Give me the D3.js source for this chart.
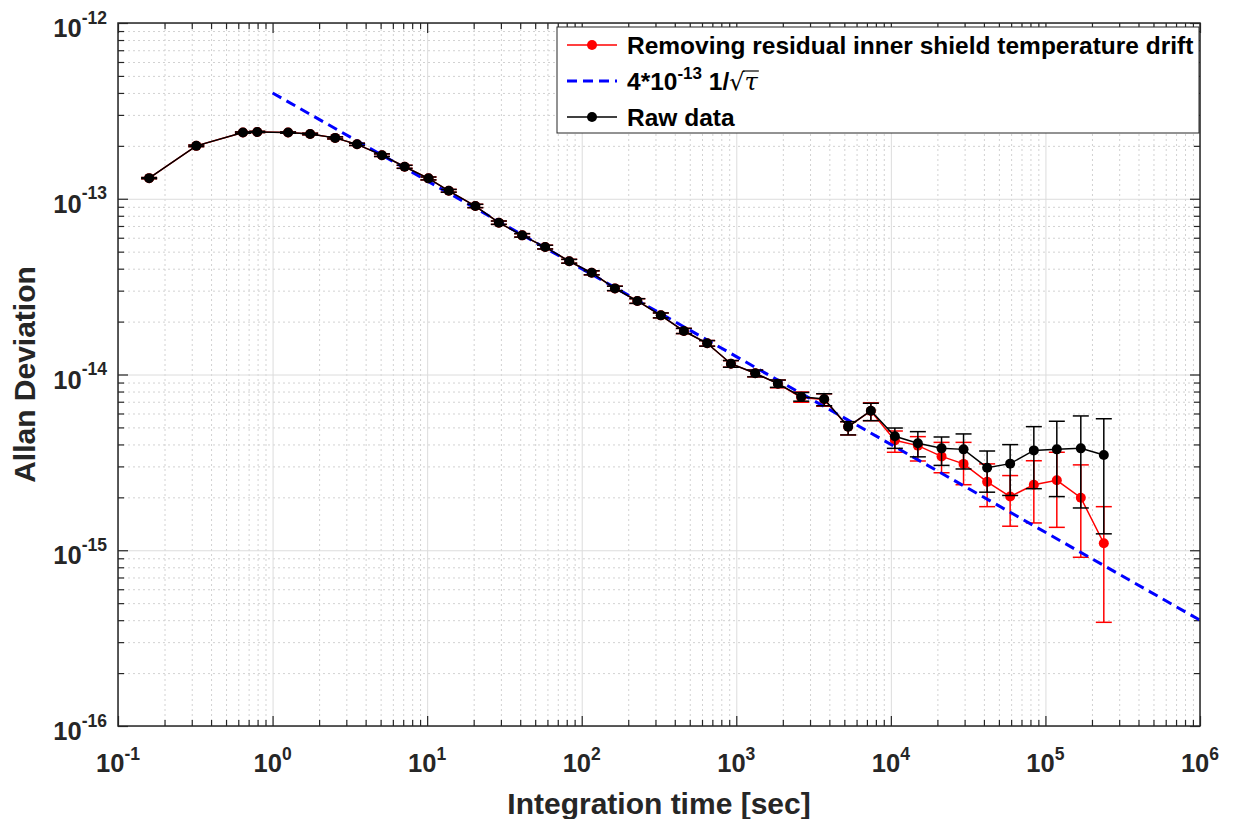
<!DOCTYPE html>
<html>
<head>
<meta charset="utf-8">
<script src="https://cdn.jsdelivr.net/npm/d3@7"></script>
<style>
  html, body { margin: 0; padding: 0; background: #fff; }
  svg { display: block; }
  text { font-family: "Liberation Sans", Arial, Helvetica, sans-serif; font-weight: bold; }
</style>
</head>
<body>
<svg id="chart" width="1234" height="819"></svg>
<script>
// ---------------- data ----------------
const tau = [0.159, 0.321, 0.643, 0.796, 1.26, 1.75, 2.54, 3.52, 5.10, 7.15,
  10.2, 13.8, 20.5, 29.1, 41.2, 58.0, 83.0, 116, 164, 229,
  325, 458, 648, 923, 1325, 1858, 2630, 3703, 5293, 7424,
  10614, 14950, 21280, 29530, 41970, 59120, 84140, 118500, 169400, 238600];

const rawDev = [1.31e-13, 2.00e-13, 2.38e-13, 2.40e-13, 2.38e-13, 2.335e-13, 2.22e-13, 2.04e-13, 1.77e-13, 1.52e-13,
  1.306e-13, 1.11e-13, 9.09e-14, 7.31e-14, 6.19e-14, 5.31e-14, 4.41e-14, 3.79e-14, 3.09e-14, 2.62e-14,
  2.17e-14, 1.768e-14, 1.505e-14, 1.152e-14, 1.016e-14, 8.87e-15, 7.47e-15, 7.25e-15, 5.05e-15, 6.22e-15,
  4.45e-15, 4.06e-15, 3.80e-15, 3.75e-15, 2.95e-15, 3.11e-15, 3.70e-15, 3.75e-15, 3.80e-15, 3.48e-15];
const rawLo = [1.30e-13, 1.98e-13, 2.36e-13, 2.38e-13, 2.36e-13, 2.31e-13, 2.19e-13, 2.01e-13, 1.74e-13, 1.49e-13,
  1.28e-13, 1.09e-13, 8.90e-14, 7.15e-14, 6.05e-14, 5.18e-14, 4.30e-14, 3.69e-14, 3.00e-14, 2.54e-14,
  2.10e-14, 1.71e-14, 1.45e-14, 1.10e-14, 9.70e-15, 8.45e-15, 7.05e-15, 6.64e-15, 4.53e-15, 5.46e-15,
  3.80e-15, 3.40e-15, 3.04e-15, 2.90e-15, 2.14e-15, 2.05e-15, 2.24e-15, 2.02e-15, 1.74e-15, 1.24e-15];
const rawHi = [1.32e-13, 2.02e-13, 2.40e-13, 2.42e-13, 2.40e-13, 2.36e-13, 2.25e-13, 2.07e-13, 1.80e-13, 1.55e-13,
  1.33e-13, 1.13e-13, 9.30e-14, 7.47e-14, 6.33e-14, 5.44e-14, 4.52e-14, 3.89e-14, 3.18e-14, 2.70e-14,
  2.24e-14, 1.83e-14, 1.56e-14, 1.20e-14, 1.06e-14, 9.30e-15, 7.90e-15, 7.77e-15, 5.39e-15, 6.86e-15,
  4.96e-15, 4.73e-15, 4.41e-15, 4.59e-15, 3.67e-15, 3.99e-15, 5.05e-15, 5.42e-15, 5.81e-15, 5.60e-15];

const redDev = [1.31e-13, 2.00e-13, 2.38e-13, 2.40e-13, 2.38e-13, 2.335e-13, 2.22e-13, 2.04e-13, 1.77e-13, 1.52e-13,
  1.306e-13, 1.11e-13, 9.09e-14, 7.31e-14, 6.19e-14, 5.31e-14, 4.41e-14, 3.79e-14, 3.09e-14, 2.62e-14,
  2.17e-14, 1.768e-14, 1.505e-14, 1.152e-14, 1.016e-14, 8.87e-15, 7.40e-15, 7.20e-15, 5.05e-15, 6.20e-15,
  4.22e-15, 3.94e-15, 3.42e-15, 3.10e-15, 2.45e-15, 2.02e-15, 2.36e-15, 2.50e-15, 1.99e-15, 1.096e-15];
const redLo = [1.30e-13, 1.98e-13, 2.36e-13, 2.38e-13, 2.36e-13, 2.31e-13, 2.19e-13, 2.01e-13, 1.74e-13, 1.49e-13,
  1.28e-13, 1.09e-13, 8.90e-14, 7.15e-14, 6.05e-14, 5.18e-14, 4.30e-14, 3.69e-14, 3.00e-14, 2.54e-14,
  2.10e-14, 1.71e-14, 1.45e-14, 1.10e-14, 9.70e-15, 8.40e-15, 6.95e-15, 6.60e-15, 4.53e-15, 5.46e-15,
  3.61e-15, 3.22e-15, 2.76e-15, 2.36e-15, 1.77e-15, 1.37e-15, 1.43e-15, 1.35e-15, 0.912e-15, 0.389e-15];
const redHi = [1.32e-13, 2.02e-13, 2.40e-13, 2.42e-13, 2.40e-13, 2.36e-13, 2.25e-13, 2.07e-13, 1.80e-13, 1.55e-13,
  1.33e-13, 1.13e-13, 9.30e-14, 7.47e-14, 6.33e-14, 5.44e-14, 4.52e-14, 3.89e-14, 3.18e-14, 2.70e-14,
  2.24e-14, 1.83e-14, 1.56e-14, 1.20e-14, 1.06e-14, 9.30e-15, 7.95e-15, 7.77e-15, 5.39e-15, 6.90e-15,
  4.77e-15, 4.43e-15, 4.11e-15, 4.11e-15, 3.10e-15, 2.66e-15, 3.23e-15, 3.61e-15, 3.06e-15, 1.77e-15];

// 4e-13 / sqrt(tau) reference line endpoints
const fitTau = [1, 1e6];
const fitDev = [4e-13, 4e-16];

const xTickValues = [1e-1, 1e0, 1e1, 1e2, 1e3, 1e4, 1e5, 1e6];
const xTickExps = ["-1", "0", "1", "2", "3", "4", "5", "6"];
const yTickValues = [1e-16, 1e-15, 1e-14, 1e-13, 1e-12];
const yTickExps = ["-16", "-15", "-14", "-13", "-12"];
const minorMultipliers = [2, 3, 4, 5, 6, 7, 8, 9];

const legendLabels = ["Removing residual inner shield temperature drift", "4*10", "Raw data"];

// ---------------- layout ----------------
const L = 118, R = 1200, T = 23, B = 726;
const svg = d3.select("#chart");
const x = d3.scaleLog().domain([1e-1, 1e6]).range([L, R]);
const y = d3.scaleLog().domain([1e-16, 1e-12]).range([B, T]);

const xMinor = [], yMinor = [];
xTickValues.slice(0, -1).forEach(v => minorMultipliers.forEach(m => xMinor.push(v * m)));
yTickValues.slice(0, -1).forEach(v => minorMultipliers.forEach(m => yMinor.push(v * m)));

const axisCol = "#262626";

// grids
const gMinorX = svg.append("g").attr("transform", `translate(0,${B})`)
  .call(d3.axisBottom(x).tickValues(xMinor).tickSize(-(B - T)).tickFormat(""));
const gMinorY = svg.append("g").attr("transform", `translate(${L},0)`)
  .call(d3.axisLeft(y).tickValues(yMinor).tickSize(-(R - L)).tickFormat(""));
[gMinorX, gMinorY].forEach(g => {
  g.select(".domain").remove();
  g.selectAll(".tick line").attr("stroke", "#d2d2d2").attr("stroke-width", 1).attr("stroke-dasharray", "2,3");
});
const gMajX = svg.append("g").attr("transform", `translate(0,${B})`)
  .call(d3.axisBottom(x).tickValues(xTickValues).tickSize(-(B - T)).tickFormat(""));
const gMajY = svg.append("g").attr("transform", `translate(${L},0)`)
  .call(d3.axisLeft(y).tickValues(yTickValues).tickSize(-(R - L)).tickFormat(""));
[gMajX, gMajY].forEach(g => {
  g.select(".domain").remove();
  g.selectAll(".tick line").attr("stroke", "#dcdcdc").attr("stroke-width", 1);
});

// ticks (inward, all four sides)
function tickAxis(axisGen, transform, values, size) {
  const g = svg.append("g").attr("transform", transform)
    .call(axisGen.tickValues(values).tickSize(size).tickFormat(""));
  g.select(".domain").remove();
  g.selectAll(".tick line").attr("stroke", axisCol).attr("stroke-width", 1.2);
}
tickAxis(d3.axisBottom(x), `translate(0,${B})`, xTickValues, -10);
tickAxis(d3.axisBottom(x), `translate(0,${B})`, xMinor, -6);
tickAxis(d3.axisTop(x), `translate(0,${T})`, xTickValues, -10);
tickAxis(d3.axisTop(x), `translate(0,${T})`, xMinor, -6);
tickAxis(d3.axisLeft(y), `translate(${L},0)`, yTickValues, -10);
tickAxis(d3.axisLeft(y), `translate(${L},0)`, yMinor, -6);
tickAxis(d3.axisRight(y), `translate(${R},0)`, yTickValues, -10);
tickAxis(d3.axisRight(y), `translate(${R},0)`, yMinor, -6);

// tick labels
xTickValues.forEach((v, i) => {
  const t = svg.append("text").attr("x", x(v)).attr("y", 772)
    .attr("text-anchor", "middle").attr("fill", axisCol).attr("font-size", 25.5);
  t.append("tspan").text("10");
  t.append("tspan").attr("dy", -12.5).attr("font-size", 17.5).text(xTickExps[i]);
});
yTickValues.forEach((v, i) => {
  const t = svg.append("text").attr("x", 107).attr("y", y(v) + 14)
    .attr("text-anchor", "end").attr("fill", axisCol).attr("font-size", 25.5);
  t.append("tspan").text("10");
  t.append("tspan").attr("dy", -13.5).attr("font-size", 17.5).text(yTickExps[i]);
});

// axis labels
svg.append("text").attr("x", (L + R) / 2).attr("y", 814).attr("text-anchor", "middle")
  .attr("fill", axisCol).attr("font-size", 30).text("Integration time [sec]");
svg.append("text").attr("transform", `translate(35,${(T + B) / 2}) rotate(-90)`)
  .attr("text-anchor", "middle").attr("fill", axisCol).attr("font-size", 30).text("Allan Deviation");

// clip
svg.append("clipPath").attr("id", "clip").append("rect")
  .attr("x", L).attr("y", T).attr("width", R - L).attr("height", B - T);
const plot = svg.append("g").attr("clip-path", "url(#clip)");

function drawSeries(dev, lo, hi, color) {
  const g = plot.append("g");
  const cap = 8;
  tau.forEach((t, i) => {
    const cx = x(t);
    g.append("line").attr("x1", cx).attr("x2", cx).attr("y1", y(lo[i])).attr("y2", y(hi[i]))
      .attr("stroke", color).attr("stroke-width", 1.5);
    g.append("line").attr("x1", cx - cap).attr("x2", cx + cap).attr("y1", y(lo[i])).attr("y2", y(lo[i]))
      .attr("stroke", color).attr("stroke-width", 1.5);
    g.append("line").attr("x1", cx - cap).attr("x2", cx + cap).attr("y1", y(hi[i])).attr("y2", y(hi[i]))
      .attr("stroke", color).attr("stroke-width", 1.5);
  });
  const line = d3.line().x((d, i) => x(tau[i])).y(d => y(d));
  g.append("path").datum(dev).attr("d", line).attr("fill", "none")
    .attr("stroke", color).attr("stroke-width", 1.5);
  g.selectAll("circle").data(dev).enter().append("circle")
    .attr("cx", (d, i) => x(tau[i])).attr("cy", d => y(d)).attr("r", 5).attr("fill", color);
}

drawSeries(redDev, redLo, redHi, "#ff0000");
plot.append("path").datum(fitDev)
  .attr("d", d3.line().x((d, i) => x(fitTau[i])).y(d => y(d)))
  .attr("fill", "none").attr("stroke", "#0000ff").attr("stroke-width", 3).attr("stroke-dasharray", "10,6");
drawSeries(rawDev, rawLo, rawHi, "#000000");

// axes box
svg.append("rect").attr("x", L).attr("y", T).attr("width", R - L).attr("height", B - T)
  .attr("fill", "none").attr("stroke", axisCol).attr("stroke-width", 1.5);

// legend
const lg = svg.append("g");
lg.append("rect").attr("x", 557).attr("y", 27).attr("width", 642).attr("height", 106)
  .attr("fill", "#fff").attr("stroke", axisCol).attr("stroke-width", 1);
const rows = [45, 81, 117];
const lColors = ["#ff0000", "#0000ff", "#000000"];
rows.forEach((ry, i) => {
  const ln = lg.append("line").attr("x1", 567).attr("x2", 617).attr("y1", ry).attr("y2", ry)
    .attr("stroke", lColors[i]).attr("stroke-width", i === 1 ? 3 : 1.5);
  if (i === 1) ln.attr("stroke-dasharray", "10,6");
  else lg.append("circle").attr("cx", 592).attr("cy", ry).attr("r", 5).attr("fill", lColors[i]);
});
lg.append("text").attr("x", 627).attr("y", rows[0] + 9).attr("font-size", 24.5).attr("fill", "#000")
  .text(legendLabels[0]);
const t2 = lg.append("text").attr("x", 627).attr("y", rows[1] + 9).attr("font-size", 24.5).attr("fill", "#000");
t2.append("tspan").text(legendLabels[1]);
t2.append("tspan").attr("dy", -11).attr("font-size", 17).text("-13");
t2.append("tspan").attr("dy", 11).text(" 1/");
t2.append("tspan").attr("font-weight", "normal").attr("font-family", "DejaVu Sans").attr("font-size", 24).text("\u221A");
t2.append("tspan").attr("font-weight", "normal").attr("font-style", "italic")
  .attr("font-family", "DejaVu Serif").attr("font-size", 24).text("\u03C4");
// overbar of the radical
const node = t2.node();
const n = node.getNumberOfChars();
const endTau = node.getEndPositionOfChar(n - 1);
const sqEnd = node.getEndPositionOfChar(n - 2);
lg.append("line").attr("x1", sqEnd.x - 1.5).attr("x2", endTau.x + 1)
  .attr("y1", rows[1] - 10).attr("y2", rows[1] - 10).attr("stroke", "#000").attr("stroke-width", 1.2);
lg.append("text").attr("x", 627).attr("y", rows[2] + 9).attr("font-size", 24.5).attr("fill", "#000")
  .text(legendLabels[2]);
</script>
</body>
</html>
